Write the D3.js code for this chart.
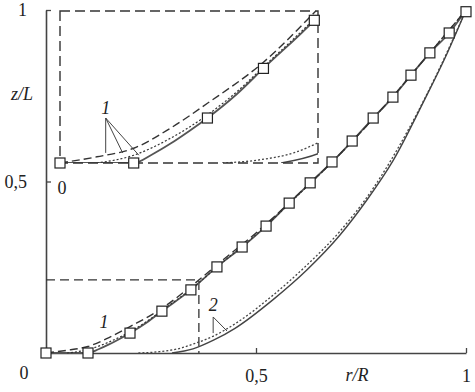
<!DOCTYPE html>
<html>
<head>
<meta charset="utf-8">
<script src="https://cdn.jsdelivr.net/npm/d3@7"></script>
<style>
  body { margin: 0; background: #fff; }
  svg text { font-family: "Liberation Serif", "Times New Roman", serif; fill: #222; }
</style>
</head>
<body>
<script>
// data (r/R, z/L)
var markerR = [0, 0.10, 0.20, 0.276, 0.345, 0.407, 0.467, 0.524, 0.579, 0.629, 0.681, 0.729, 0.779, 0.826, 0.869, 0.914, 0.960, 1.0];
var markerZ = [0, 0, 0.058, 0.122, 0.184, 0.251, 0.309, 0.370, 0.437, 0.496, 0.557, 0.618, 0.685, 0.746, 0.810, 0.875, 0.933, 0.995];

var solid1R = [0, 0.10, 0.125, 0.15, 0.175, 0.20, 0.24, 0.276, 0.345, 0.407, 0.467, 0.524, 0.579, 0.629, 0.681, 0.729, 0.779, 0.826, 0.869, 0.914, 0.960, 1.0];
var solid1Z = [0, 0, 0.011, 0.025, 0.041, 0.058, 0.089, 0.122, 0.184, 0.251, 0.309, 0.370, 0.437, 0.496, 0.557, 0.618, 0.685, 0.746, 0.810, 0.875, 0.933, 1.0];

var dashed1R = [0, 0.05, 0.10, 0.15, 0.20, 0.276, 0.345, 0.42, 0.50, 0.60, 0.70, 0.80, 0.90, 1.0];
var dashed1Z = [0, 0.008, 0.019, 0.045, 0.077, 0.130, 0.194, 0.270, 0.350, 0.462, 0.580, 0.712, 0.855, 1.0];

var dotted1R = [0.05, 0.10, 0.15, 0.20, 0.24, 0.276, 0.345, 0.42, 0.50, 0.60, 0.70, 0.80, 0.90, 1.0];
var dotted1Z = [0, 0.010, 0.032, 0.062, 0.092, 0.124, 0.186, 0.264, 0.345, 0.460, 0.580, 0.712, 0.855, 1.0];

var solid2R = [0.30, 0.35, 0.40, 0.45, 0.54, 0.621, 0.70, 0.764, 0.826, 0.902, 0.95, 1.0];
var solid2Z = [0, 0.012, 0.038, 0.072, 0.155, 0.242, 0.344, 0.446, 0.560, 0.740, 0.860, 1.0];

var dotted2R = [0.22, 0.27, 0.32, 0.35, 0.40, 0.45, 0.54, 0.62, 0.70, 0.78, 0.86, 0.93, 1.0];
var dotted2Z = [0, 0.004, 0.014, 0.026, 0.050, 0.085, 0.168, 0.255, 0.355, 0.482, 0.645, 0.812, 1.0];

var tickValues = [0.5, 1];
var boxR = 0.364, boxZ = 0.213;          // zoom region marked on the main plot
var insetDomainR = [0, 0.35], insetDomainZ = [0, 0.196];

// label leader lines (data coords in the inset / main plot)
var insetLabelFrom = [0.062, 0.058];
var insetLabelTo = [[0.062, 0.013], [0.085, 0.013], [0.107, 0.010]];
var mainLabel2From = [0.398, 0.105];
var mainLabel2To = [[0.398, 0.058], [0.431, 0.064]];

function pts(rs, zs) { return rs.map(function (r, i) { return [r, zs[i]]; }); }

var width = 475, height = 392;
var x = d3.scaleLinear().domain([0, 1]).range([46, 466]);
var y = d3.scaleLinear().domain([0, 1]).range([353, 10]);
var xi = d3.scaleLinear().domain(insetDomainR).range([60, 318]);
var yi = d3.scaleLinear().domain(insetDomainZ).range([163, 11]);

var locale = d3.formatLocale({decimal: ",", thousands: " ", grouping: [3], currency: ["", ""]});
var fmt = locale.format("~g");

var svg = d3.select("body").append("svg")
  .attr("width", width).attr("height", height);

var ink = "#333";

/***** main axes *****/
var xAxis = d3.axisBottom(x).tickValues(tickValues).tickSizeInner(-5).tickSizeOuter(0)
  .tickPadding(16).tickFormat(fmt);
var yAxis = d3.axisLeft(y).tickValues(tickValues).tickSizeInner(-5).tickSizeOuter(0)
  .tickPadding(19).tickFormat(fmt);

function styleAxis(g) {
  g.select(".domain").attr("stroke", "#444").attr("stroke-width", 1.6);
  g.selectAll(".tick line").attr("stroke", "#444").attr("stroke-width", 1.3);
  g.selectAll(".tick text").attr("font-size", 18).attr("font-family", "Liberation Serif, serif").attr("fill", "#222");
}
svg.append("g").attr("transform", "translate(0," + y(0) + ")").call(xAxis).call(styleAxis);
svg.append("g").attr("transform", "translate(" + x(0) + ",0)").call(yAxis).call(styleAxis);

svg.append("text").attr("x", 24).attr("y", 379).attr("text-anchor", "middle").attr("font-size", 18).text("0");
svg.append("text").attr("x", 357).attr("y", 381).attr("text-anchor", "middle").attr("font-size", 18)
  .attr("font-style", "italic").text("r/R");
svg.append("text").attr("x", 22).attr("y", 100).attr("text-anchor", "middle").attr("font-size", 18)
  .attr("font-style", "italic").text("z/L");

/***** zoom box on main plot *****/
svg.append("path")
  .attr("d", d3.line()([[x(0), y(boxZ)], [x(boxR), y(boxZ)], [x(boxR), y(0)]]))
  .attr("fill", "none").attr("stroke", ink).attr("stroke-width", 1.3).attr("stroke-dasharray", "9,5");

/***** curves *****/
function drawCurves(g, sx, sy) {
  var line = d3.line().x(function (d) { return sx(d[0]); }).y(function (d) { return sy(d[1]); })
    .curve(d3.curveMonotoneX);
  g.append("path").datum(pts(solid2R, solid2Z)).attr("d", line)
    .attr("fill", "none").attr("stroke", "#444").attr("stroke-width", 1.4);
  g.append("path").datum(pts(dotted2R, dotted2Z)).attr("d", line)
    .attr("fill", "none").attr("stroke", "#444").attr("stroke-width", 1.3).attr("stroke-dasharray", "2,2");
  g.append("path").datum(pts(solid1R, solid1Z)).attr("d", line)
    .attr("fill", "none").attr("stroke", "#555").attr("stroke-width", 1.8);
  g.append("path").datum(pts(dotted1R, dotted1Z)).attr("d", line)
    .attr("fill", "none").attr("stroke", "#333").attr("stroke-width", 1.2).attr("stroke-dasharray", "2,2");
  g.append("path").datum(pts(dashed1R, dashed1Z)).attr("d", line)
    .attr("fill", "none").attr("stroke", "#333").attr("stroke-width", 1.4).attr("stroke-dasharray", "8,4");
}

function drawMarkers(g, sx, sy, data) {
  g.selectAll("rect.m").data(data).enter().append("rect").attr("class", "m")
    .attr("x", function (d) { return sx(d[0]) - 5; })
    .attr("y", function (d) { return sy(d[1]) - 5; })
    .attr("width", 10).attr("height", 10)
    .attr("fill", "#fff").attr("stroke", "#222").attr("stroke-width", 1.2);
}

var mainG = svg.append("g");
drawCurves(mainG, x, y);

/***** inset *****/
svg.append("rect").attr("x", xi.range()[0]).attr("y", yi.range()[1])
  .attr("width", xi.range()[1] - xi.range()[0]).attr("height", yi.range()[0] - yi.range()[1])
  .attr("fill", "#fff").attr("stroke", "none");

svg.append("clipPath").attr("id", "insetClip").append("rect")
  .attr("x", xi.range()[0]).attr("y", yi.range()[1])
  .attr("width", xi.range()[1] - xi.range()[0]).attr("height", yi.range()[0] - yi.range()[1]);

var insetG = svg.append("g").attr("clip-path", "url(#insetClip)");
drawCurves(insetG, xi, yi);

svg.append("rect").attr("x", xi.range()[0]).attr("y", yi.range()[1])
  .attr("width", xi.range()[1] - xi.range()[0]).attr("height", yi.range()[0] - yi.range()[1])
  .attr("fill", "none").attr("stroke", ink).attr("stroke-width", 1.4).attr("stroke-dasharray", "10,5");

svg.append("text").attr("x", 62).attr("y", 194).attr("text-anchor", "middle").attr("font-size", 18).text("0");

drawMarkers(mainG, x, y, pts(markerR, markerZ));
var insetMarkers = pts(markerR, markerZ).filter(function (d) { return d[0] <= insetDomainR[1]; });
drawMarkers(svg.append("g"), xi, yi, insetMarkers);

/***** labels *****/
svg.append("text").attr("x", xi(insetLabelFrom[0])).attr("y", yi(insetLabelFrom[1]) - 4)
  .attr("text-anchor", "middle").attr("font-size", 18).attr("font-style", "italic").text("1");
insetLabelTo.forEach(function (p) {
  svg.append("line").attr("x1", xi(insetLabelFrom[0])).attr("y1", yi(insetLabelFrom[1]))
    .attr("x2", xi(p[0])).attr("y2", yi(p[1])).attr("stroke", "#444").attr("stroke-width", 1);
});

svg.append("text").attr("x", 104).attr("y", 328).attr("text-anchor", "middle").attr("font-size", 18)
  .attr("font-style", "italic").text("1");

svg.append("text").attr("x", x(mainLabel2From[0])).attr("y", y(mainLabel2From[1]) - 6)
  .attr("text-anchor", "middle").attr("font-size", 18).attr("font-style", "italic").text("2");
mainLabel2To.forEach(function (p) {
  svg.append("line").attr("x1", x(mainLabel2From[0])).attr("y1", y(mainLabel2From[1]))
    .attr("x2", x(p[0])).attr("y2", y(p[1])).attr("stroke", "#444").attr("stroke-width", 1);
});
</script>
</body>
</html>
